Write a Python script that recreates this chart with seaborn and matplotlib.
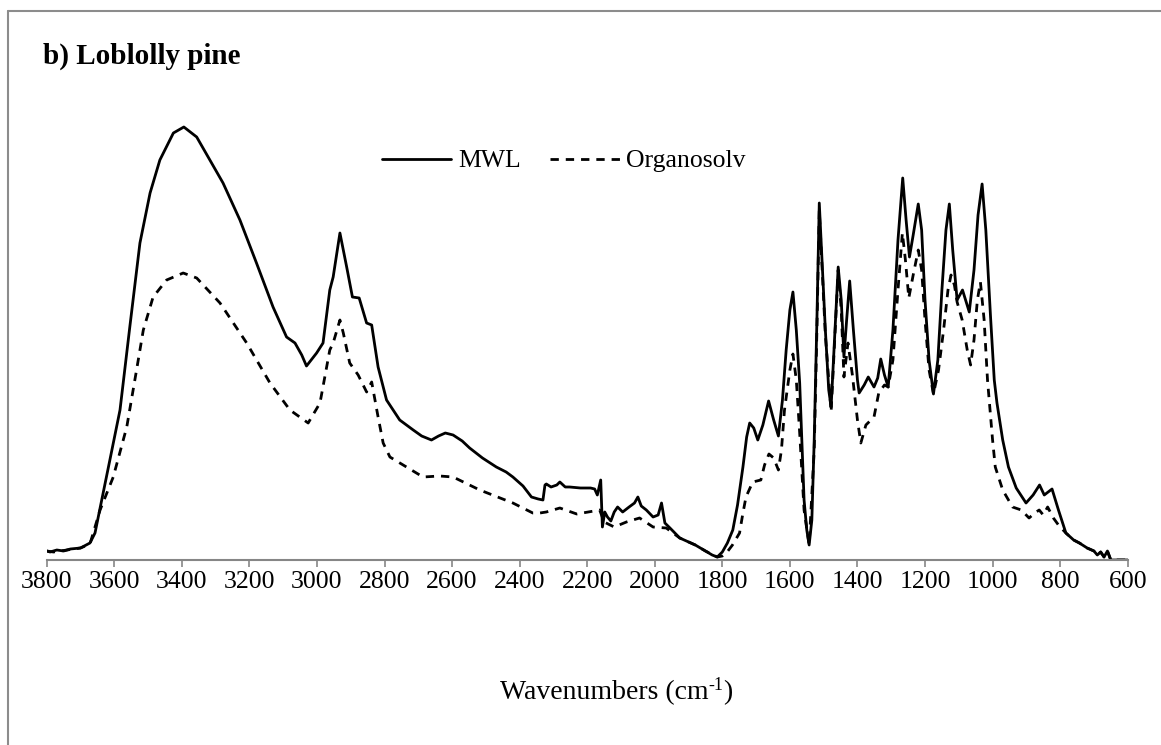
import numpy as np
import pandas as pd
import seaborn as sns
import matplotlib.pyplot as plt
from matplotlib.lines import Line2D

# FTIR spectra (arbitrary absorbance, height above baseline)
mwl_wn = [3800, 3790, 3770, 3750, 3730, 3700, 3672, 3657, 3637, 3613, 3583, 3554, 3524, 3494,
          3465, 3425, 3394, 3356, 3317, 3278, 3228, 3179, 3130, 3090, 3065, 3045, 3031, 3001,
          2982, 2962, 2952, 2932, 2912, 2895, 2875, 2853, 2838, 2819, 2794, 2755, 2715, 2690,
          2661, 2640, 2620, 2597, 2570, 2548,
          2510, 2469, 2440, 2420, 2390, 2365, 2345, 2331, 2325, 2321, 2307, 2290, 2281, 2265,
          2252, 2220, 2190, 2178, 2170, 2160, 2155, 2148, 2140, 2130, 2120, 2110, 2095, 2076,
          2060, 2050, 2040, 2025, 2005, 1990, 1980, 1970, 1955, 1926, 1880, 1850, 1830, 1815,
          1800, 1785, 1769, 1755, 1739, 1728, 1719, 1707, 1695, 1680, 1663, 1648, 1634, 1622,
          1611, 1600, 1591, 1581, 1571, 1558, 1550, 1543, 1535, 1528, 1520, 1513, 1505, 1495,
          1485, 1478, 1468, 1457, 1448, 1440, 1432, 1423, 1412, 1400, 1395, 1380, 1368, 1351,
          1340, 1331, 1320, 1309, 1295, 1280, 1266, 1256, 1246, 1235, 1220, 1210, 1200, 1188,
          1175, 1162, 1150, 1138, 1128, 1118, 1105, 1089, 1069, 1055, 1043, 1031, 1020, 1006,
          995, 987, 970, 953, 930, 901, 880, 861, 847, 824, 805, 783, 760, 743, 720, 700,
          690, 680, 670, 660, 650, 600]
mwl_abs = [9, 8, 10, 9, 11, 12, 17, 27, 60, 100, 150, 233, 317, 367,
           400, 427, 433, 423, 400, 377, 340, 297, 253, 223, 217, 205, 194, 207,
           217, 270, 283, 327, 293, 263, 262, 237, 235, 193, 160, 140, 130, 124,
           120, 124, 127, 125, 119, 112,
           102, 93, 88, 83, 74, 63, 61, 60, 75, 76, 73, 75, 78, 73,
           73, 72, 72, 71, 65, 80, 33, 48, 43, 39, 48, 53, 48, 53,
           57, 63, 54, 50, 43, 45, 57, 37, 32, 22, 15, 9, 5, 3,
           8, 17, 30, 55, 93, 123, 137, 132, 120, 135, 159, 140, 124, 160,
           210, 250, 268, 230, 177, 60, 30, 15, 40, 120, 240, 357, 300, 230,
           170, 153, 220, 293, 260, 203, 240, 279, 230, 180, 167, 175, 183, 173,
           182, 201, 185, 173, 230, 320, 382, 340, 303, 325, 356, 330, 260, 200,
           166, 200, 270, 330, 356, 310, 260, 270, 248, 290, 345, 376, 330, 243,
           180, 157, 120, 93, 72, 57, 65, 75, 65, 71, 50, 27, 20, 17, 12, 9,
           5, 8, 3, 9, 0, 0]

org_wn = [3800, 3780, 3760, 3740, 3720, 3700, 3672, 3642, 3603, 3563, 3534, 3514, 3485, 3445,
          3396, 3356, 3287, 3208, 3139, 3080, 3026, 2991, 2962, 2952, 2932, 2922, 2903, 2878,
          2853, 2838, 2819, 2804, 2784, 2745,
          2686, 2637, 2597, 2518, 2420, 2361, 2340, 2321, 2281, 2231, 2163, 2150, 2120, 2084,
          2045, 2005, 1966, 1926, 1880, 1850, 1815, 1800, 1788, 1770, 1749, 1740, 1730, 1710,
          1686, 1675, 1662, 1648, 1634, 1625, 1616, 1600, 1591, 1581, 1571, 1558, 1543, 1528,
          1520, 1513, 1505, 1495, 1478, 1468, 1457, 1448, 1440, 1428, 1415, 1400, 1390, 1375,
          1360, 1351, 1337, 1320, 1309, 1295, 1280, 1267, 1258, 1248, 1235, 1220, 1210, 1200,
          1188, 1175, 1160, 1145, 1132, 1123, 1113, 1105, 1090, 1075, 1065, 1055, 1045, 1036,
          1025, 1015, 1000, 992, 970, 941, 915, 892, 875, 862, 850, 837, 820, 805,
          783, 760, 743, 720, 700, 690, 680, 670, 660, 650, 600]
org_abs = [9, 8, 9, 10, 11, 12, 16, 50, 83, 133, 190, 230, 263, 280,
           287, 282, 257, 217, 177, 150, 137, 157, 210, 217, 240, 227, 197, 185,
           168, 178, 143, 117, 103, 95,
           83, 84, 83, 70, 57, 47, 47, 48, 52, 46, 50, 38, 33, 38,
           42, 33, 32, 22, 15, 9, 3, 4, 7, 15, 27, 45, 63, 78,
           80, 95, 106, 102, 90, 110, 150, 190, 206, 180, 127, 50, 15, 110,
           230, 350, 295, 225, 148, 215, 290, 250, 183, 217, 185, 140, 117, 135,
           140, 143, 167, 175, 173, 200, 270, 327, 300, 262, 285, 310, 290, 240,
           190, 166, 190, 230, 270, 285, 275, 258, 240, 210, 195, 220, 260, 278,
           240, 180, 120, 93, 70, 53, 50, 42, 47, 50, 45, 53, 42, 35,
           27, 20, 17, 12, 9, 5, 8, 3, 9, 0, 0]

x_ticks = list(range(3800, 599, -200))

mwl = pd.DataFrame({"wn": mwl_wn, "abs": np.array(mwl_abs) / 433})
org = pd.DataFrame({"wn": org_wn, "abs": np.array(org_abs) / 433})

sns.set_style("white")
plt.rcParams["font.family"] = ["Liberation Serif", "DejaVu Serif"]
plt.rcParams["text.color"] = "black"

fig = plt.figure(figsize=(11.61, 7.45), dpi=100)
ax = fig.add_axes([46.7 / 1161, 1 - 560 / 745, 1081 / 1161, 460 / 745])

sns.lineplot(data=mwl, x="wn", y="abs", ax=ax, color="black", lw=2.0,
             sort=False, label="MWL")
sns.lineplot(data=org, x="wn", y="abs", ax=ax, color="black", lw=2.0,
             sort=False, linestyle=(0, (3, 2.5)), label="Organosolv")

ax.set_xlim(3800, 600)
ax.set_ylim(0, 460 / 433)
ax.set_xticks(x_ticks)
ax.set_xticklabels([str(t) for t in x_ticks], fontsize=18.5)
ax.set_yticks([])
ax.set_xlabel("")
ax.set_ylabel("")
for s in ["top", "right", "left"]:
    ax.spines[s].set_visible(False)
ax.spines["bottom"].set_color("#868686")
ax.spines["bottom"].set_linewidth(1.5)
ax.tick_params(axis="x", direction="out", length=5, width=1.2, color="#868686",
               labelcolor="black", pad=3, bottom=True)

leg = ax.legend(loc="center", bbox_to_anchor=(564 / 1161, 1 - 161 / 745),
                bbox_transform=fig.transFigure, ncol=2, frameon=False, fontsize=18.5,
                handlelength=2.7, handletextpad=0.27, columnspacing=1.13)
for t in leg.get_texts():
    t.set_color("black")

fig.text(43 / 1161, 1 - 56 / 745, "b) Loblolly pine", fontsize=21, fontweight="bold",
         ha="left", va="center", color="black")

# x axis title with a plain hyphen in the superscript, built from three pieces
fig.canvas.draw()
renderer = fig.canvas.get_renderer()
parts = [("Wavenumbers (cm", 20, 0), ("-1", 13, 9), (")", 20, 0)]
texts = [fig.text(0, 0, s, fontsize=fs, color="black") for s, fs, _ in parts]
widths = [t.get_window_extent(renderer).width for t in texts]
x0 = 616 - sum(widths) / 2
base_y = 745 - 699
for t, w, (_, _, dy) in zip(texts, widths, parts):
    t.set_position((x0 / 1161, (base_y + dy) / 745))
    t.set_va("baseline")
    x0 += w

# outer chart frame (top and left edges visible in the reference)
fig.add_artist(Line2D([7.5 / 1161, 1], [1 - 10.5 / 745, 1 - 10.5 / 745],
                      transform=fig.transFigure, color="#8c8c8c", lw=1.5))
fig.add_artist(Line2D([7.5 / 1161, 7.5 / 1161], [0, 1 - 10.5 / 745],
                      transform=fig.transFigure, color="#8c8c8c", lw=1.5))

fig.savefig("out.png", dpi=100)
